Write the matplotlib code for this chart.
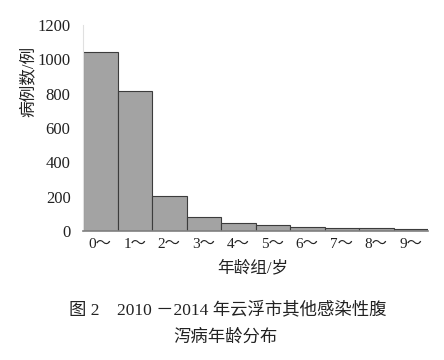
import matplotlib.pyplot as plt

# Age-group distribution of cases
age_groups = ['0～', '1～', '2～', '3～', '4～', '5～', '6～', '7～', '8～', '9～']
cases = [1041, 814, 206, 82, 50, 33, 22, 17, 18, 14]

plt.rcParams['font.family'] = ['Liberation Serif', 'Noto Sans CJK SC', 'DejaVu Sans']

fig = plt.figure(figsize=(4.44, 3.6), dpi=100)
ax = fig.add_axes([0.187, 0.358, 0.777, 0.573])

x = list(range(len(cases)))
ax.bar(x, cases, width=1.0, color='#a3a3a3', edgecolor='#3c3c3c', linewidth=0.8)

ax.set_xlim(-0.5, len(cases) - 0.5)
ax.set_ylim(0, 1200)
ax.set_yticks([0, 200, 400, 600, 800, 1000, 1200])
ax.set_xticks(x)
ax.set_xticklabels(age_groups, fontsize=11, color='#222222')
ax.tick_params(axis='y', length=0, labelsize=12, pad=9, colors='#222222')
ax.tick_params(axis='x', length=0, pad=5)

for s in ['top', 'right']:
    ax.spines[s].set_visible(False)
ax.spines['left'].set_color('#e0e0e0')
ax.spines['left'].set_linewidth(0.8)
ax.spines['bottom'].set_color('#808080')
ax.spines['bottom'].set_linewidth(1.2)

fig.text(0.064, 0.775, '病例数/例', rotation=90, ha='center', va='center',
         fontsize=12, color='#222222')
fig.text(0.57, 0.255, '年龄组/岁', ha='center', va='center', fontsize=12, color='#222222')

fig.text(0.513, 0.139, '图 2    2010 －2014 年云浮市其他感染性腹', ha='center', va='center',
         fontsize=12.5, color='#222222')
fig.text(0.507, 0.062, '泻病年龄分布', ha='center', va='center', fontsize=12.5, color='#222222')

fig.savefig('out.png', dpi=100)
